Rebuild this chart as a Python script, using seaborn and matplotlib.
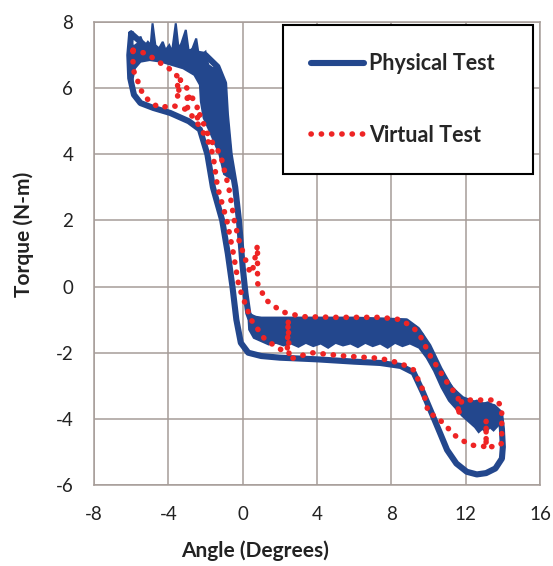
import matplotlib
matplotlib.use("Agg")
import matplotlib.pyplot as plt
import seaborn as sns
import pandas as pd
from matplotlib.lines import Line2D

# ---------------- data ----------------
# Physical test: main loop trace
phys_x = [-6.0, -6.1, -6.05, -5.85, -5.5, -4.8, -3.9, -2.9, -2.3, -1.9, -1.6, -1.1, -0.8, -0.55, -0.34,
          -0.1, 0.3, 1.0, 2.0, 4.0, 6.0, 7.4, 8.5, 9.2, 9.7, 10.1, 10.6, 11.0, 11.5, 12.06, 12.6, 13.1,
          13.6, 13.95, 14.0, 13.95, 13.85, 13.5, 12.5, 11.8, 11.2, 10.6, 10.0, 9.4, 8.8, 6.0, 3.0, 1.0,
          0.4, 0.3, 0.15, 0.0, -0.2, -0.4, -0.7, -0.9, -1.0, -1.36, -2.0, -3.0, -4.0, -5.0, -6.0]
phys_y = [7.65, 7.0, 6.3, 5.8, 5.55, 5.4, 5.25, 5.0, 4.75, 4.0, 3.0, 2.0, 1.0, 0.0, -1.0,
          -1.7, -2.0, -2.1, -2.15, -2.2, -2.27, -2.31, -2.4, -2.6, -3.2, -3.73, -4.4, -4.94, -5.35, -5.6,
          -5.68, -5.64, -5.5, -5.2, -4.85, -4.3, -3.83, -3.64, -3.55, -3.4, -3.1, -2.5, -1.8, -1.3, -1.05,
          -1.0, -1.0, -1.0, -0.95, -0.8, -0.2, 0.6, 2.0, 3.0, 4.0, 5.2, 6.15, 6.65, 7.0, 7.1, 7.1, 7.15,
          7.65]

# Physical test: noisy envelope, top-left region (outer spiky edge then inner edge)
phys_top_x = [-6.1, -5.9, -5.65, -5.5, -5.3, -5.1, -4.95, -4.85, -4.7, -4.5, -4.3, -4.15, -3.95, -3.8,
              -3.6, -3.45, -3.3, -3.06, -2.9, -2.7, -2.5, -2.35, -2.2, -2.0, -1.85, -1.6, -1.36, -1.25,
              -1.0, -0.9, -0.8, -0.7, -0.6, -0.45, -1.0, -1.25, -1.7, -2.1, -2.25, -2.3, -2.6, -3.2,
              -3.8, -4.4, -5.0, -5.5, -5.8, -5.95]
phys_top_y = [7.7, 7.25, 7.35, 7.56, 7.25, 7.4, 7.3, 7.96, 7.3, 7.2, 7.4, 7.15, 7.3, 7.1,
              7.96, 7.2, 7.35, 7.76, 7.1, 7.2, 7.5, 6.95, 7.0, 7.1, 6.7, 6.6, 6.65, 6.3,
              6.15, 5.6, 5.0, 4.4, 3.9, 3.2, 3.4, 4.0, 4.6, 5.1, 5.6, 6.1, 6.4, 6.6,
              6.7, 6.8, 6.85, 6.8, 6.6, 6.2]

# Physical test: noisy envelope, flat band and right-hand descent
phys_band_x = [0.3, 0.8, 2.0, 4.0, 6.0, 8.0, 8.8, 9.3, 9.7, 10.1, 10.5, 10.9, 11.3, 11.7, 12.0, 12.3,
               12.6, 12.9, 13.2, 13.5, 13.7, 13.75, 13.5, 13.3, 13.1, 12.9, 12.7, 12.5, 12.2, 12.0,
               11.8, 11.5, 11.1, 10.7, 10.3, 9.9, 9.5, 9.0, 8.6, 8.2, 7.8, 7.4, 7.0, 6.6, 6.2, 5.8,
               5.4, 5.0, 4.6, 4.2, 3.8, 3.4, 3.0, 2.6, 2.2, 1.8, 1.4, 1.0, 0.6, 0.35]
phys_band_y = [-0.8, -0.95, -0.97, -0.97, -0.97, -0.98, -1.05, -1.2, -1.45, -1.9, -2.35, -2.75, -3.05,
               -3.3, -3.45, -3.5, -3.45, -3.55, -3.5, -3.6, -3.75, -4.2, -4.35, -4.25, -4.4, -4.3,
               -4.4, -4.25, -4.1, -4.0, -3.9, -3.7, -3.45, -3.05, -2.55, -2.15, -1.85, -1.72, -1.8,
               -1.7, -1.85, -1.72, -1.8, -1.7, -1.83, -1.72, -1.78, -1.7, -1.85, -1.72, -1.8, -1.7,
               -1.82, -1.72, -1.78, -1.7, -1.75, -1.65, -1.55, -1.3]

# Virtual test: closed loop
virt_x = [-5.9, -5.2, -4.4, -3.85, -3.5, -3.5, -3.35, -3.0, -2.97, -2.85, -2.45, -2.43, -2.3, -1.8,
          -1.2, -0.75, -0.45, -0.2, 0.1, 0.35, 0.5, 0.8, 0.8, 1.24, 2.1, 3.2, 5.0, 7.4, 8.5, 9.2, 9.56,
          10.1, 11.0, 11.6, 11.6, 11.8, 12.06, 13.67, 13.94, 13.94, 13.67, 13.1, 13.1, 13.1,
          12.24, 11.5, 10.45, 10.0, 9.7, 9.2, 8.5, 7.4, 5.5, 3.7, 2.5, 2.45, 2.4, 2.1, 1.2, 0.45,
          -0.2, -0.5, -0.85, -1.35, -1.6, -1.9, -2.5, -3.0, -3.86, -4.4, -4.94, -5.4, -5.6, -5.85,
          -5.9, -5.9]
virt_y = [7.15, 7.05, 6.75, 6.55, 6.35, 5.7, 6.25, 6.0, 5.4, 5.85, 5.45, 5.0, 5.2, 4.5,
          4.0, 3.0, 2.0, 1.4, 0.9, 0.5, 0.4, 1.25, 0.1, -0.4, -0.76, -0.91, -0.93, -0.93, -1.0, -1.25,
          -1.5, -2.1, -2.9, -3.35, -3.9, -3.43, -3.43, -3.43, -3.65, -4.74, -4.84, -4.84, -4.03, -4.84,
          -4.79, -4.54, -3.94, -3.83, -3.13, -2.52, -2.32, -2.17, -2.1, -2.0, -2.2, -1.0, -1.95, -1.92,
          -1.6, -1.0, 0.0, 1.0, 2.0, 3.0, 4.0, 4.45, 5.0, 5.35, 5.49, 5.4, 5.55, 5.85, 6.15, 6.5,
          6.8, 7.15]

x_ticks = [-8, -4, 0, 4, 8, 12, 16]
y_ticks = [-6, -4, -2, 0, 2, 4, 6, 8]

phys = pd.DataFrame({"Angle": phys_x, "Torque": phys_y})
virt = pd.DataFrame({"Angle": virt_x, "Torque": virt_y})

# ---------------- styling ----------------
sns.set_style("white")
plt.rcParams["font.family"] = ["Lato", "DejaVu Sans"]

BLUE = "#23478D"
RED = "#EE2424"
GRID = "#A69C98"
DOTS = (0, (0.05, 1.8))

fig = plt.figure(figsize=(5.53, 5.66), dpi=100)
ax = fig.add_axes([94 / 553, 81 / 566, 446 / 553, 463 / 566])

# noisy envelope of the physical measurement
ax.fill(phys_top_x, phys_top_y, color=BLUE, lw=1.5, zorder=3)
ax.fill(phys_band_x, phys_band_y, color=BLUE, lw=1.5, zorder=3)

sns.lineplot(data=phys, x="Angle", y="Torque", sort=False, estimator=None,
             color=BLUE, linewidth=4.4, ax=ax, zorder=3)
sns.lineplot(data=virt, x="Angle", y="Torque", sort=False, estimator=None,
             color=RED, linewidth=4.0, ax=ax, zorder=4)
lines = ax.get_lines()
lines[0].set_solid_joinstyle("round")
lines[0].set_solid_capstyle("round")
lines[1].set_linestyle(DOTS)
lines[1].set_dash_capstyle("round")

ax.set_xlim(-8, 16)
ax.set_ylim(-6, 8)
ax.set_xticks(x_ticks)
ax.set_yticks(y_ticks)
ax.set_xticklabels([str(v) for v in x_ticks])
ax.set_yticklabels([str(v) for v in y_ticks])
ax.grid(True, color=GRID, linewidth=1.1)
ax.set_axisbelow(True)
for s in ax.spines.values():
    s.set_color(GRID)
    s.set_linewidth(1.1)
ax.tick_params(length=0, labelsize=13.5, colors="#222222", pad=15)

ax.set_xlabel("Angle (Degrees)", fontsize=15, fontweight="bold", color="#222222")
ax.set_ylabel("Torque (N-m)", fontsize=15, fontweight="bold", color="#222222")
ax.xaxis.set_label_coords(0.361, -0.12)
ax.yaxis.set_label_coords(-0.135, 0.542)

handles = [
    Line2D([0], [0], color=BLUE, linewidth=4.4, solid_capstyle="round"),
    Line2D([0], [0], color=RED, linewidth=4.0, linestyle=DOTS, dash_capstyle="round"),
]
leg = ax.legend(handles, ["Physical Test", "Virtual Test"],
                loc="upper left", bbox_to_anchor=(0.424, 0.993, 0.56, 0.0),
                mode="expand", prop={"weight": "bold", "size": 15.5},
                handlelength=2.45, handletextpad=0.25, labelspacing=2.35,
                borderpad=1.3, borderaxespad=0, fancybox=False,
                framealpha=1, edgecolor="black")
leg.get_frame().set_linewidth(1.5)
leg.set_zorder(10)

fig.savefig("out.png", dpi=100, facecolor="white")
